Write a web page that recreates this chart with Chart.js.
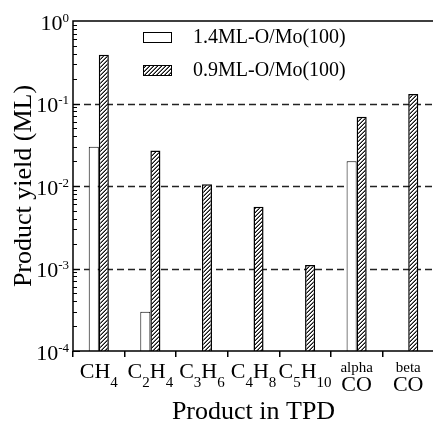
<!DOCTYPE html>
<html><head><meta charset="utf-8">
<script src="https://cdn.jsdelivr.net/npm/chart.js@4"></script>
<style>html,body{margin:0;padding:0;background:#fff;overflow:hidden}#wrap{width:433px;height:431px;overflow:hidden;position:relative}canvas{display:block}</style>
</head><body><div id="wrap"><canvas id="c" width="440" height="431"></canvas></div>
<script>
const categories = ['CH4', 'C2H4', 'C3H6', 'C4H8', 'C5H10', 'alpha CO', 'beta CO'];
const series1Label = '1.4ML-O/Mo(100)';
const series2Label = '0.9ML-O/Mo(100)';
const series1 = [0.03, 0.0003, null, null, null, 0.02, null];
const series2 = [0.39, 0.027, 0.0105, 0.0056, 0.0011, 0.069, 0.13];
const yTickExponents = [0, -1, -2, -3, -4];
const yTitle = 'Product yield (ML)';
const xTitle = 'Product in TPD';
const SERIF = "'Times New Roman','Liberation Serif',serif";

function makeHatch() {
  const c = document.createElement('canvas');
  c.width = 4; c.height = 4;
  const g = c.getContext('2d');
  const img = g.createImageData(4, 4);
  for (let yy = 0; yy < 4; yy++) for (let xx = 0; xx < 4; xx++) {
    const k = (xx + yy) % 4;
    const v = k === 3 ? 20 : (k === 2 ? 120 : 255);
    const o = (yy * 4 + xx) * 4;
    img.data[o] = v; img.data[o + 1] = v; img.data[o + 2] = v; img.data[o + 3] = 255;
  }
  g.putImageData(img, 0, 0);
  return g.createPattern(c, 'repeat');
}
const hatch = makeHatch();

function drawCategoryLabel(ctx, label, cx, base) {
  ctx.fillStyle = '#000';
  ctx.textBaseline = 'alphabetic';
  if (label.indexOf(' ') >= 0) {
    const [top, bot] = label.split(' ');
    ctx.textAlign = 'center';
    ctx.font = '15px ' + SERIF;
    ctx.fillText(top, cx, base + 21);
    ctx.font = '22px ' + SERIF;
    ctx.fillText(bot, cx, base + 39.5);
    return;
  }
  const parts = label.match(/[A-Za-z]+|\d+/g);
  const fonts = parts.map(p => /\d/.test(p) ? '15px ' + SERIF : '22px ' + SERIF);
  let total = 0;
  const widths = parts.map((p, i) => { ctx.font = fonts[i]; const w = ctx.measureText(p).width; total += w; return w; });
  let xx = cx - total / 2;
  ctx.textAlign = 'left';
  parts.forEach((p, i) => {
    ctx.font = fonts[i];
    const sub = /\d/.test(p);
    ctx.fillText(p, xx, base + (sub ? 36 : 27));
    xx += widths[i];
  });
}

const deco = {
  id: 'deco',
  beforeDatasetsDraw(chart) {
    const { ctx, chartArea: a, scales: { y } } = chart;
    ctx.save();
    ctx.strokeStyle = '#222'; ctx.lineWidth = 1.5; ctx.setLineDash([7, 4]);
    yTickExponents.forEach(e => {
      if (e === 0 || e === -4) return;
      const py = Math.round(y.getPixelForValue(Math.pow(10, e))) + 0.5;
      ctx.beginPath(); ctx.moveTo(a.left, py); ctx.lineTo(a.right, py); ctx.stroke();
    });
    ctx.restore();
  },
  afterDatasetsDraw(chart) {
    const { ctx, chartArea: a, scales: { x, y } } = chart;
    ctx.save();
    ctx.strokeStyle = '#000'; ctx.lineWidth = 1.5; ctx.setLineDash([]);
    ctx.beginPath();
    ctx.moveTo(a.right, a.top); ctx.lineTo(a.left, a.top); ctx.lineTo(a.left, a.bottom); ctx.lineTo(a.right, a.bottom);
    ctx.stroke();
    ctx.lineWidth = 1;
    const emin = Math.min(...yTickExponents), emax = Math.max(...yTickExponents);
    for (let e = emin; e < emax; e++) {
      for (let m = 1; m <= 9; m++) {
        const py = Math.round(y.getPixelForValue(m * Math.pow(10, e))) + 0.5;
        const len = m === 1 ? 7 : 4;
        ctx.beginPath(); ctx.moveTo(a.left, py); ctx.lineTo(a.left + len, py); ctx.stroke();
      }
    }
    ctx.fillStyle = '#000'; ctx.textBaseline = 'alphabetic'; ctx.textAlign = 'right';
    yTickExponents.forEach(e => {
      const py = y.getPixelForValue(Math.pow(10, e));
      const expText = String(e);
      ctx.font = '13px ' + SERIF;
      const ew = ctx.measureText(expText).width;
      const right = a.left - 4;
      ctx.fillText(expText, right, py + 0.5);
      ctx.font = '22px ' + SERIF;
      ctx.fillText('10', right - ew, py + 8.5);
    });
    categories.forEach((c, i) => drawCategoryLabel(ctx, c, x.getPixelForValue(i), a.bottom));
    const ds = chart.data.datasets;
    ds.forEach((d, i) => {
      const bx = a.left + 70, by = a.top + 11 + i * 33;
      ctx.fillStyle = d.backgroundColor; ctx.fillRect(bx, by, 29, 10);
      ctx.strokeStyle = '#000'; ctx.lineWidth = 1; ctx.strokeRect(bx + 0.5, by + 0.5, 28, 10);
      ctx.fillStyle = '#000'; ctx.font = '20px ' + SERIF; ctx.textAlign = 'left'; ctx.textBaseline = 'middle';
      ctx.fillText(d.label, bx + 50, by + 6);
    });
    ctx.restore();
  }
};

new Chart(document.getElementById('c'), {
  type: 'bar',
  data: {
    labels: categories,
    datasets: [
      { label: series1Label, data: series1, backgroundColor: '#fff', borderColor: '#000', borderWidth: 1, categoryPercentage: 0.39, barPercentage: 1 },
      { label: series2Label, data: series2, backgroundColor: hatch, borderColor: '#000', borderWidth: 1.5, categoryPercentage: 0.39, barPercentage: 1 }
    ]
  },
  options: {
    responsive: false, animation: false, devicePixelRatio: 1,
    layout: { padding: { top: 21, right: 6, bottom: 0, left: 0 } },
    plugins: { legend: { display: false }, tooltip: { enabled: false } },
    scales: {
      x: {
        type: 'category',
        ticks: { display: false },
        grid: { display: true, drawOnChartArea: false, drawTicks: true, tickLength: 6, color: '#000', lineWidth: 1.5, offset: true },
        border: { display: false },
        title: { display: true, text: xTitle, color: '#000', font: { family: SERIF, size: 26 }, padding: { top: 0, bottom: 3 } },
        afterFit(s) { s.height = 80; }
      },
      y: {
        type: 'logarithmic', min: 1e-4, max: 1,
        ticks: { display: false },
        grid: { display: false },
        border: { display: false },
        title: { display: true, text: yTitle, color: '#000', font: { family: SERIF, size: 26 }, padding: { top: 9, bottom: 0 } },
        afterFit(s) { s.width = 73; }
      }
    }
  },
  plugins: [deco]
});
</script>
</body></html>
